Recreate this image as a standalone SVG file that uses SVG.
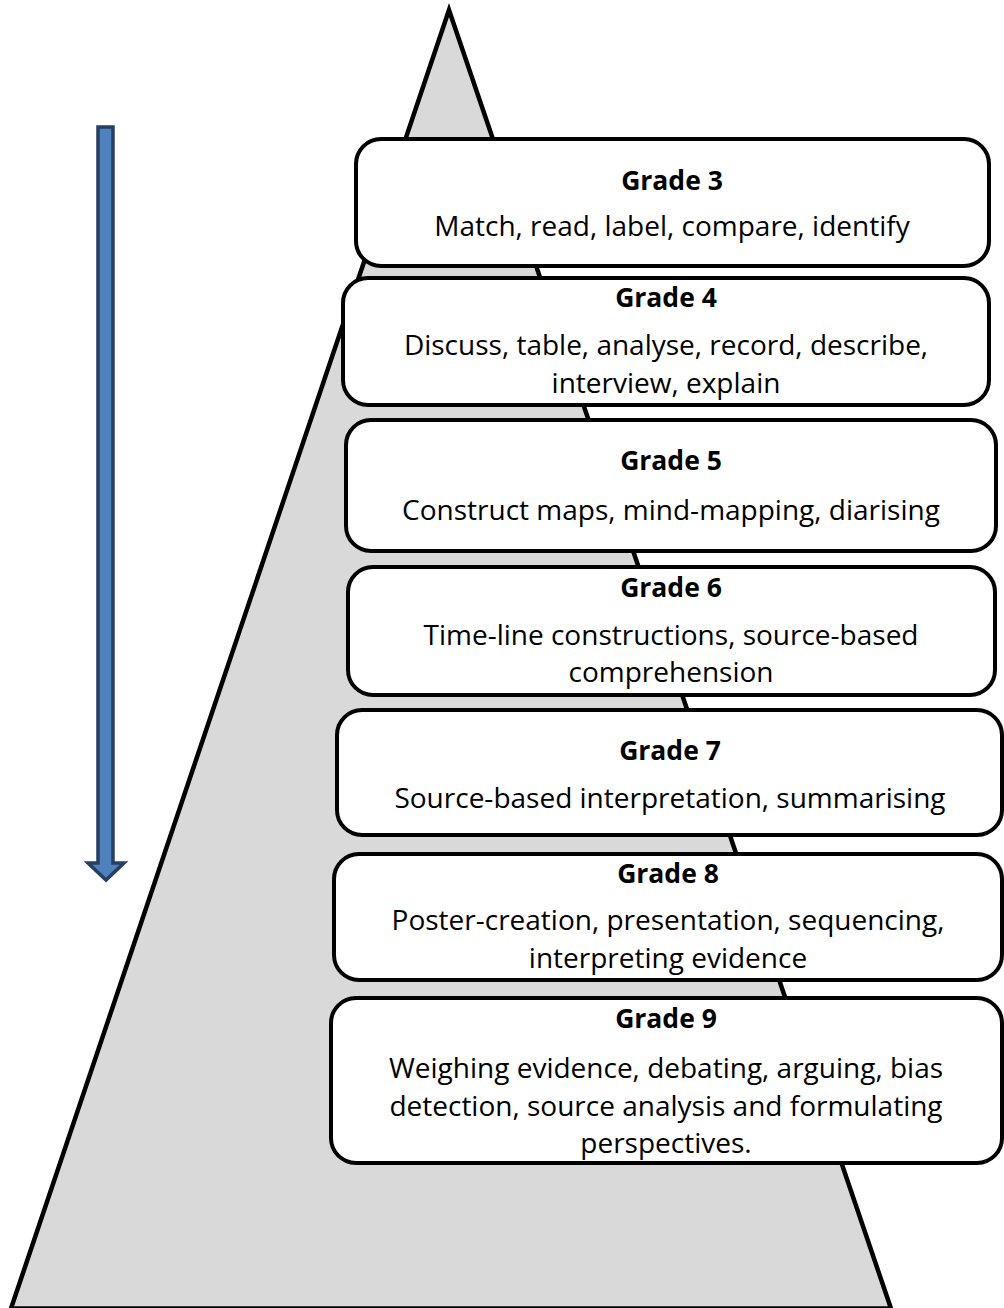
<svg xmlns="http://www.w3.org/2000/svg" width="1004" height="1308" viewBox="0 0 1004 1308">
<style>
.box{fill:#fff;stroke:#000;stroke-width:4}
.t{font-family:"Open Sans","Noto Sans",sans-serif;font-size:28px;fill:#000;text-anchor:middle}
.h{font-weight:bold;font-size:26.5px}
</style>
<rect width="1004" height="1308" fill="#fff"/>
<g id="pyramid">
<polygon points="449,10 11,1308.5 891,1308.5" fill="#d9d9d9" stroke="#000" stroke-width="4.5"/>
</g>
<g id="arrow">
<path d="M98,127 H113 V863 H124 L106,880 L88,863 H98 Z" fill="#4f81bd" stroke="#263f63" stroke-width="3.5" stroke-linejoin="miter"/>
</g>
<g id="grade3">
<rect class="box" x="356" y="139" width="633" height="127" rx="25"/>
<text class="t h" x="672" y="190">Grade 3</text>
<text class="t" x="672" y="236">Match, read, label, compare, identify</text>
</g>
<g id="grade4">
<rect class="box" x="343" y="278" width="646" height="127" rx="25"/>
<text class="t h" x="666" y="307">Grade 4</text>
<text class="t" x="666" y="355">Discuss, table, analyse, record, describe,</text>
<text class="t" x="666" y="393">interview, explain</text>
</g>
<g id="grade5">
<rect class="box" x="346" y="420" width="650" height="131" rx="25"/>
<text class="t h" x="671" y="470">Grade 5</text>
<text class="t" x="671" y="520">Construct maps, mind-mapping, diarising</text>
</g>
<g id="grade6">
<rect class="box" x="348" y="567" width="647" height="128" rx="25"/>
<text class="t h" x="671" y="597">Grade 6</text>
<text class="t" x="671" y="645">Time-line constructions, source-based</text>
<text class="t" x="671" y="682">comprehension</text>
</g>
<g id="grade7">
<rect class="box" x="337" y="710" width="665" height="125" rx="25"/>
<text class="t h" x="670" y="760">Grade 7</text>
<text class="t" x="670" y="808">Source-based interpretation, summarising</text>
</g>
<g id="grade8">
<rect class="box" x="334" y="854" width="668" height="126" rx="25"/>
<text class="t h" x="668" y="883">Grade 8</text>
<text class="t" x="668" y="930">Poster-creation, presentation, sequencing,</text>
<text class="t" x="668" y="968">interpreting evidence</text>
</g>
<g id="grade9">
<rect class="box" x="331" y="998" width="671" height="165" rx="25"/>
<text class="t h" x="666" y="1028">Grade 9</text>
<text class="t" x="666" y="1078">Weighing evidence, debating, arguing, bias</text>
<text class="t" x="666" y="1116">detection, source analysis and formulating</text>
<text class="t" x="666" y="1153">perspectives.</text>
</g>
</svg>
